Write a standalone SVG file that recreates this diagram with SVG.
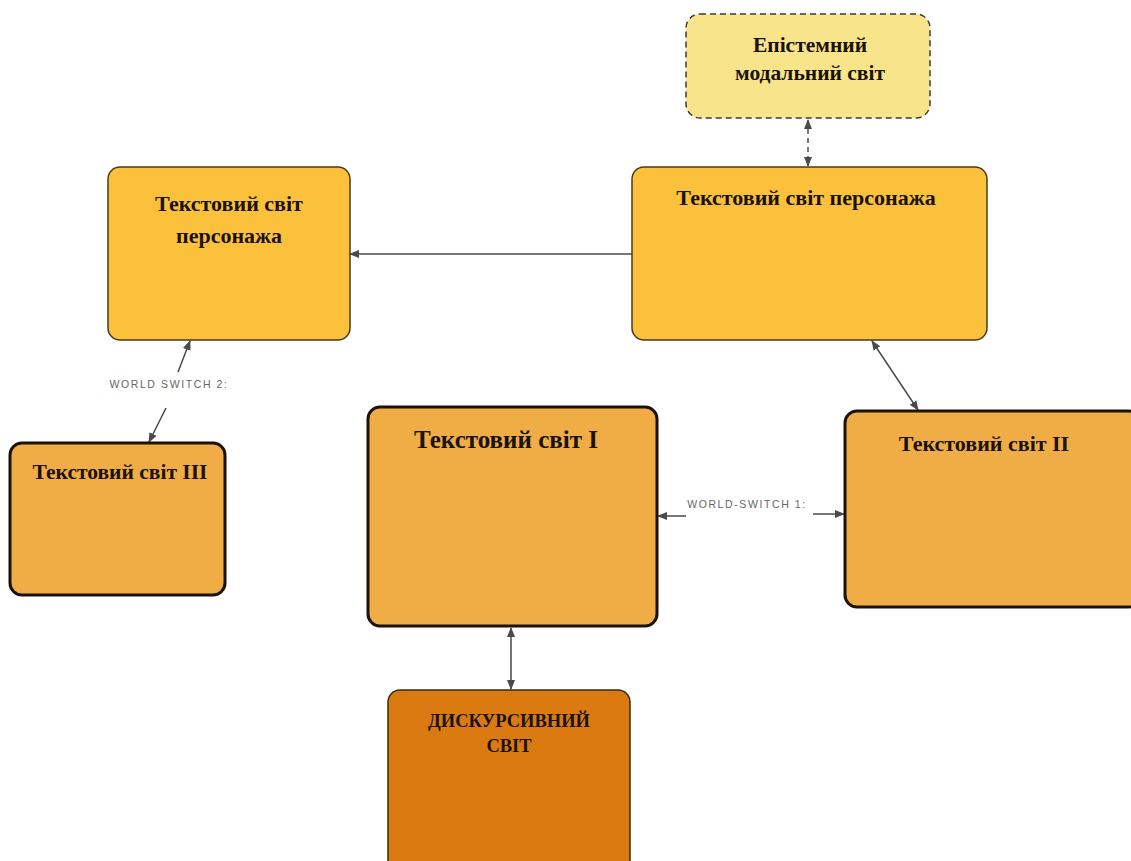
<svg xmlns="http://www.w3.org/2000/svg" width="1131" height="861" viewBox="0 0 1131 861">
<style>
.t{font-family:"Liberation Serif","Noto Serif",serif;font-weight:bold;fill:#1a1208;text-anchor:middle}
.lbl{font-family:"Liberation Sans",Arial,sans-serif;font-size:10.5px;fill:#666;letter-spacing:1.6px;text-anchor:middle}
.c{stroke:#4a4a4a;stroke-width:1.5;fill:none}
</style>
<defs>
<marker id="ah" viewBox="0 0 10 10" refX="9" refY="5" markerWidth="10" markerHeight="10" orient="auto-start-reverse" markerUnits="userSpaceOnUse">
<path d="M0,1 L10,5 L0,9 z" fill="#4a4a4a"/>
</marker>
</defs>
<rect width="1131" height="861" fill="#fff"/>
<g id="connectors">
<line class="c" x1="808" y1="120" x2="808" y2="166" stroke-dasharray="5,4" marker-start="url(#ah)" marker-end="url(#ah)"/>
<line class="c" x1="632" y1="254" x2="350" y2="254" marker-end="url(#ah)"/>
<line class="c" x1="178" y1="372" x2="190" y2="341" marker-end="url(#ah)"/>
<line class="c" x1="166" y1="408" x2="149" y2="442" marker-end="url(#ah)"/>
<text class="lbl" x="169" y="388">WORLD SWITCH 2:</text>
<line class="c" x1="872" y1="341" x2="918" y2="410" marker-start="url(#ah)" marker-end="url(#ah)"/>
<line class="c" x1="686" y1="516" x2="658" y2="516" marker-end="url(#ah)"/>
<line class="c" x1="813" y1="514" x2="844" y2="514" marker-end="url(#ah)"/>
<text class="lbl" x="747" y="508">WORLD-SWITCH 1:</text>
<line class="c" x1="511" y1="628" x2="511" y2="689" marker-start="url(#ah)" marker-end="url(#ah)"/>
</g>
<g id="epistemic">
<rect x="686" y="14" width="244" height="104" rx="14" fill="#F8E48A" stroke="#3a3a3a" stroke-width="1.5" stroke-dasharray="6,4"/>
<text class="t" x="810" y="52" font-size="21.5">Епістемний</text>
<text class="t" x="810" y="80" font-size="21.5">модальний світ</text>
</g>
<g id="char-world-right">
<rect x="632" y="167" width="355" height="173" rx="12" fill="#FCC13A" stroke="#4a3a20" stroke-width="1.5"/>
<text class="t" x="806" y="205" font-size="22">Текстовий світ персонажа</text>
</g>
<g id="char-world-left">
<rect x="108" y="167" width="242" height="173" rx="12" fill="#FCC13A" stroke="#4a3a20" stroke-width="1.5"/>
<text class="t" x="229" y="211" font-size="22">Текстовий світ</text>
<text class="t" x="229" y="243" font-size="22">персонажа</text>
</g>
<g id="world-III">
<rect x="10" y="443" width="215" height="152" rx="12" fill="#F0AD45" stroke="#1a1208" stroke-width="3"/>
<text class="t" x="120" y="479" font-size="21.5">Текстовий світ III</text>
</g>
<g id="world-I">
<rect x="368" y="407" width="289" height="219" rx="12" fill="#F0AD45" stroke="#1a1208" stroke-width="3"/>
<text class="t" x="506" y="448" font-size="25">Текстовий світ I</text>
</g>
<g id="world-II">
<rect x="845" y="411" width="296" height="196" rx="12" fill="#F0AD45" stroke="#1a1208" stroke-width="3"/>
<text class="t" x="984" y="451" font-size="22">Текстовий світ II</text>
</g>
<g id="discursive">
<rect x="388" y="690" width="242" height="190" rx="12" fill="#DC7A12" stroke="#3a2a10" stroke-width="1.5"/>
<text class="t" x="509" y="727" font-size="18.5">ДИСКУРСИВНИЙ</text>
<text class="t" x="509" y="752" font-size="18.5">СВІТ</text>
</g>
</svg>
